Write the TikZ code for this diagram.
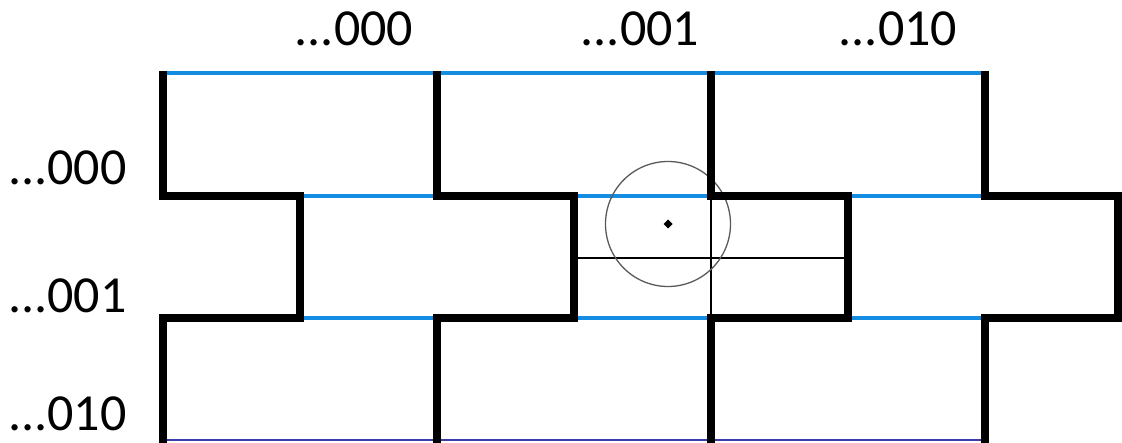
\documentclass[tikz,border=0pt]{standalone}
\usepackage{fontspec}
\setmainfont{Carlito}
\definecolor{edgeblue}{RGB}{20,140,225}
\definecolor{navyline}{RGB}{60,60,170}
\definecolor{circgray}{RGB}{90,90,90}
\tikzset{
  wall/.style={line width=7.5pt, line join=miter, black},
  blueedge/.style={line width=3.5pt, edgeblue},
  botedge/.style={line width=2.5pt, navyline},
  thinline/.style={line width=1.3pt, black},
  lbl/.style={font=\fontsize{52}{52}\selectfont, inner sep=0pt, anchor=base},
}
\begin{document}
\begin{tikzpicture}[x=1pt,y=-1pt]
\useasboundingbox (0,0) rectangle (1122,443);
% blue edges
\draw[blueedge] (163,73) -- (985,73);
\foreach \y in {196,318}{
  \draw[blueedge] (300,\y) -- (437,\y);
  \draw[blueedge] (574,\y) -- (711,\y);
  \draw[blueedge] (848,\y) -- (985,\y);
}
\draw[botedge] (163,440) -- (985,440);
% thin lines
\draw[thinline] (574,258) -- (848,258);
\draw[thinline] (711,196) -- (711,318);
% circle and centre dot
\draw[circgray, line width=1.3pt] (668,224) circle (62.5);
\fill[black] (668,219.5) -- (672.5,224) -- (668,228.5) -- (663.5,224) -- cycle;
% thick walls
\foreach \x/\r in {163/300,437/574,711/848,985/1118}{
  \draw[wall] (\x,71) -- (\x,196) -- (\r,196) -- (\r,318) -- (\x,318) -- (\x,445);
}
% labels
\node[lbl] (c0) at (354,46) {...000};
\node[lbl] (c1) at (640,46) {...001};
\node[lbl] (c2) at (898,46) {...010};
\node[lbl, anchor=base west] (r0) at (8,185) {...000};
\node[lbl, anchor=base west] (r1) at (8,313) {...001};
\node[lbl, anchor=base west] (r2) at (8,431) {...010};
\end{tikzpicture}
\end{document}
